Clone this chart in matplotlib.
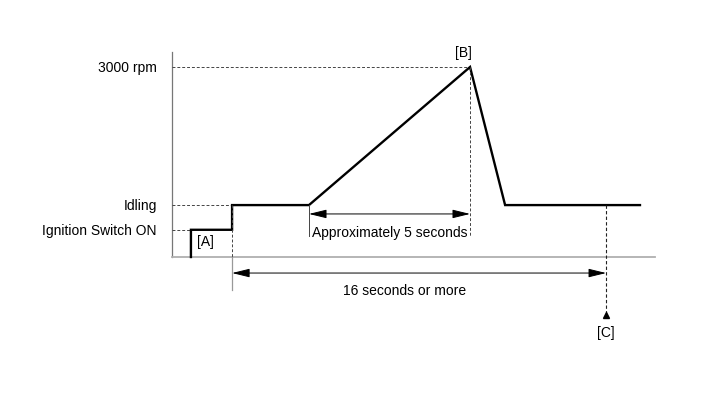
import numpy as np
import matplotlib.pyplot as plt

plt.rcParams['font.family'] = ['Liberation Sans', 'DejaVu Sans']

# engine speed trace: time (s) vs rpm
trace_t = [0.81, 0.81, 2.57, 2.57, 5.86, 12.75, 14.25, 20.02]
trace_rpm = [0, 430, 430, 820, 820, 3000, 820, 820]

level_names = ['3000 rpm', 'Idling', 'Ignition Switch ON']
level_rpm = [3000, 820, 430]
level_end_t = [12.75, 2.57, 0.81]

ramp_start, ramp_end = 5.86, 12.75
hold_start, hold_len = 2.57, 16.0
t_max, rpm_top = 20.66, 3240

fig = plt.figure(figsize=(7.13, 4.14), dpi=100)
ax = fig.add_axes([0, 0, 1, 1])
ax.set_xlim(-7.358, 23.144)
ax.set_ylim(-2463, 4074)
ax.axis('off')

arrow = dict(arrowstyle='<|-|>,head_length=0.9,head_width=0.22', color='black',
             lw=0.7, mutation_scale=12, shrinkA=0, shrinkB=0)

# axes lines
ax.plot([0, 0], [0, rpm_top], color='#777777', lw=0.9)
ax.plot([0, t_max], [0, 0], color='#b0b0b0', lw=1.3)

# reference levels
for name, r, te in zip(level_names, level_rpm, level_end_t):
    ax.plot([0, te], [r, r], color='#444444', lw=0.7, ls=(0, (3, 2)))
    ax.text(-0.65, r, name, ha='right', va='center', fontsize=10)

ax.plot(trace_t, trace_rpm, color='black', lw=1.7, solid_joinstyle='miter')

# peak drop line and 5 s span
ax.plot([ramp_end, ramp_end], [3000, 330], color='#444444', lw=0.7, ls=(0, (3, 2)))
ax.plot([ramp_start, ramp_start], [820, 330], color='#444444', lw=0.7)
ax.annotate('', xy=(ramp_start, 680), xytext=(ramp_end, 680), arrowprops=arrow)
ax.text(9.3, 400, 'Approximately 5 seconds', ha='center', va='center', fontsize=10)

# 16 s span
t_c = hold_start + hold_len
ax.plot([hold_start, hold_start], [820, 0], color='#444444', lw=0.7, ls=(0, (3, 2)))
ax.plot([hold_start, hold_start], [0, -520], color='#999999', lw=0.9)
ax.plot([t_c, t_c], [820, -950], color='#222222', lw=0.8, ls=(0, (3, 2)))
ax.annotate('', xy=(hold_start, -253), xytext=(t_c, -253), arrowprops=arrow)
ax.text(9.97, -520, '16 seconds or more', ha='center', va='center', fontsize=10)
ax.plot([t_c], [-920], marker='^', color='black', ms=5)

ax.text(1.45, 250, '[A]', ha='center', va='center', fontsize=10)
ax.text(12.48, 3230, '[B]', ha='center', va='center', fontsize=10)
ax.text(t_c, -1184, '[C]', ha='center', va='center', fontsize=10)

fig.savefig('out.png', dpi=100)
